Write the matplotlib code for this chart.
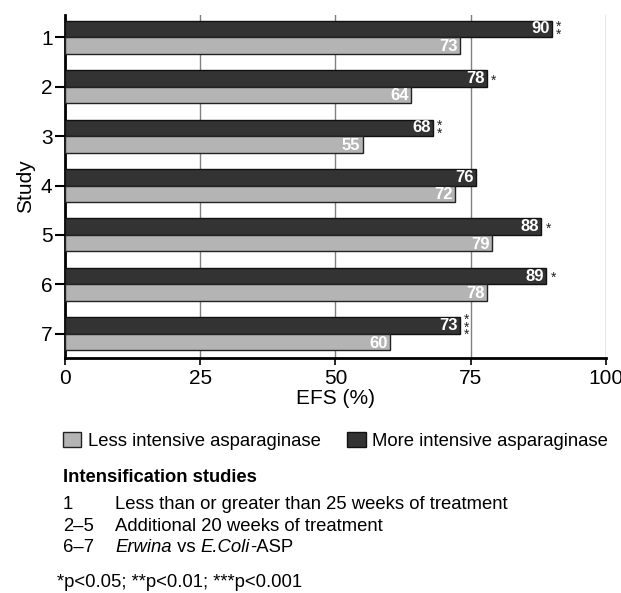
import matplotlib.pyplot as plt
from matplotlib.patches import Patch

studies = [1, 2, 3, 4, 5, 6, 7]
more_intensive = [90, 78, 68, 76, 88, 89, 73]
less_intensive = [73, 64, 55, 72, 79, 78, 60]
significance = ['**', '*', '**', '', '*', '*', '***']
x_ticks = [0, 25, 50, 75, 100]

dark = '#333333'
light = '#b4b4b4'
font = ['Liberation Sans', 'DejaVu Sans']
plt.rcParams['font.family'] = font

fig = plt.figure(figsize=(6.21, 5.93), dpi=100)
ax = fig.add_axes([0.1047, 0.3963, 0.8711, 0.5784])

h = 0.335
ax.barh([s - h / 2 for s in studies], more_intensive, height=h, color=dark,
        edgecolor='#111111', linewidth=1, zorder=3)
ax.barh([s + h / 2 for s in studies], less_intensive, height=h, color=light,
        edgecolor='#222222', linewidth=1, zorder=3)

for s, m, l, sig in zip(studies, more_intensive, less_intensive, significance):
    ax.text(m - 0.4, s - h / 2, str(m), color='white', ha='right', va='center',
            fontsize=12, fontweight='bold', zorder=4)
    ax.text(l - 0.4, s + h / 2 + 0.02, str(l), color='white', ha='right', va='center',
            fontsize=12, fontweight='bold', zorder=4)
    if sig:
        ax.text(m + 0.8, s - h / 2 + 0.04, '\n'.join(sig), color='#222222', ha='left',
                va='center', fontsize=10, linespacing=0.42, zorder=4)

ax.set_xlim(0, 100)
ax.set_ylim(7.49, 0.55)
ax.set_yticks(studies)
ax.set_yticklabels([str(s) for s in studies], fontsize=15)
ax.set_xticks(x_ticks)
ax.set_xticklabels([str(t) for t in x_ticks], fontsize=15)
ax.tick_params(axis='y', length=7, width=1.5, pad=2)
ax.tick_params(axis='x', length=5, width=1.2, pad=3)
ax.xaxis.grid(True, color='#808080', linewidth=1)
ax.set_axisbelow(True)
for side in ['top', 'right']:
    ax.spines[side].set_visible(False)
ax.spines['left'].set_linewidth(2)
ax.spines['bottom'].set_linewidth(2)
ax.set_xlabel('EFS (%)', fontsize=15, labelpad=1)
ax.set_ylabel('Study', fontsize=15, labelpad=4)

handles = [Patch(facecolor=light, edgecolor='#222222', label='Less intensive asparaginase'),
           Patch(facecolor=dark, edgecolor='#111111', label='More intensive asparaginase')]
fig.legend(handles=handles, loc='center left', bbox_to_anchor=(0.1014, 0.2563), ncol=2,
           frameon=False, fontsize=13.3, handlelength=1.0, handleheight=0.87,
           handletextpad=0.33, columnspacing=1.45, borderaxespad=0, borderpad=0)

fs = 13.3
fig.text(0.1014, 0.1956, 'Intensification studies', fontsize=13.2, fontweight='bold', va='center')
fig.text(0.1014, 0.1484, '1', fontsize=fs, va='center')
fig.text(0.1852, 0.1484, 'Less than or greater than 25 weeks of treatment', fontsize=fs, va='center')
fig.text(0.1014, 0.1113, '2\u20135', fontsize=fs, va='center')
fig.text(0.1852, 0.1113, 'Additional 20 weeks of treatment', fontsize=fs, va='center')
fig.text(0.1014, 0.0759, '6\u20137', fontsize=fs, va='center')

# italic species names mixed with upright text
renderer = fig.canvas.get_renderer()
x = 0.1852
for piece, style in [('Erwina', 'italic'), (' vs ', 'normal'), ('E.Coli', 'italic'), ('-ASP', 'normal')]:
    t = fig.text(x, 0.0759, piece, fontsize=fs, style=style, va='center')
    x += t.get_window_extent(renderer).width / fig.bbox.width

fig.text(0.0918, 0.0169, '*p<0.05; **p<0.01; ***p<0.001', fontsize=fs, va='center')

fig.savefig('out.png', dpi=100)
